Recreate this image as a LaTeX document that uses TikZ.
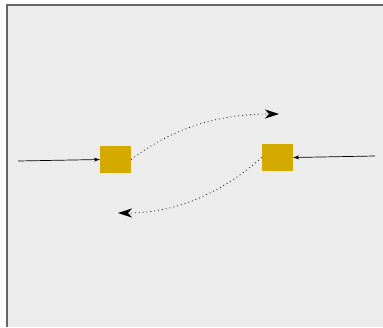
\documentclass[tikz,border=0pt]{standalone}
\usetikzlibrary{arrows.meta}
\definecolor{bgfill}{HTML}{ECECEC}
\definecolor{framec}{HTML}{666666}
\definecolor{gold}{HTML}{D4AA00}
\tikzset{
  blockbox/.style={fill=gold, draw=none, minimum width=31pt, minimum height=27pt, inner sep=0pt},
  feed/.style={line width=0.7pt, -{Stealth[length=6pt,width=4pt]}},
  swap/.style={line width=0.7pt, dash pattern=on 0.9pt off 3pt, -{Stealth[length=14pt,width=9pt,inset=4pt]}}
}
\begin{document}
\begin{tikzpicture}[x=1pt,y=-1pt]
\useasboundingbox (0,0) rectangle (383,327);
\fill[bgfill] (7,5) rectangle (383,327);
\draw[draw=framec, line width=1.3pt] (7,327) -- (7,5) -- (383,5);
\node[blockbox] (a) at (115.5,159.5) {};
\node[blockbox] (b) at (277.5,157.5) {};
\coordinate (ain) at (18,161);
\coordinate (bin) at (375,156);
\coordinate (aout) at (279,114);
\coordinate (bout) at (118,213);
\draw[feed] (ain) -- (a.west);
\draw[feed] (bin) -- (b.east);
\draw[swap] (a.east) .. controls (170,130) and (215,114) .. (aout);
\draw[swap] (b.west) .. controls (225,190) and (180,213) .. (bout);
\end{tikzpicture}
\end{document}
